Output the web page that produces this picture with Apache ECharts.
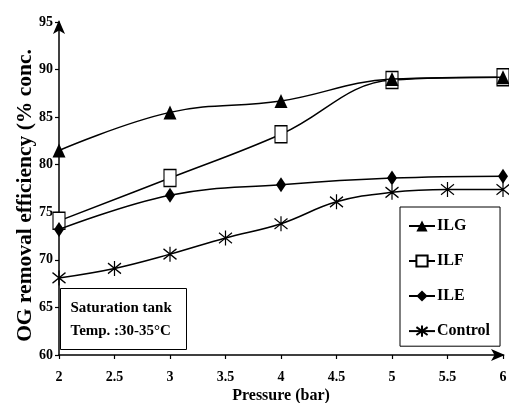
<!DOCTYPE html>
<html><head><meta charset="utf-8">
<script src="https://cdn.jsdelivr.net/npm/echarts@6/dist/echarts.min.js"></script>
<style>html,body{margin:0;padding:0;background:#fff}#c{width:509px;height:403px}</style>
</head><body><div id="c"></div>
<script>
const pressure = [2, 3, 4, 5, 6];
const pressureControl = [2, 2.5, 3, 3.5, 4, 4.5, 5, 5.5, 6];
const ILG = [81.5, 85.5, 86.7, 89.0, 89.2];
const ILF = [74.1, 78.6, 83.2, 88.9, 89.2];
const ILE = [73.2, 76.8, 77.9, 78.6, 78.8];
const Control = [68.1, 69.1, 70.6, 72.3, 73.8, 76.1, 77.1, 77.4, 77.4];
const xTicks = ['2', '2.5', '3', '3.5', '4', '4.5', '5', '5.5', '6'];
const yTicks = ['60', '65', '70', '75', '80', '85', '90', '95'];

const pair = (xs, ys) => xs.map((x, i) => [x, ys[i]]);
const FONT = '"Liberation Serif", "DejaVu Serif", serif';
const star = 'path://M5,0L5,10M0.7,1.5L9.3,8.5M9.3,1.5L0.7,8.5';

const chart = echarts.init(document.getElementById('c'), null, {renderer: 'canvas'});
chart.setOption({
  backgroundColor: '#fff',
  animation: false,
  grid: {left: 59, right: 6, top: 22, bottom: 48, containLabel: false, outerBoundsMode: 'none'},
  xAxis: {
    type: 'value', min: 2, max: 6, interval: 0.5,
    name: 'Pressure (bar)', nameLocation: 'middle', nameGap: 33, nameMoveOverlap: false,
    nameTextStyle: {fontFamily: FONT, fontWeight: 'bold', fontSize: 16, color: '#000'},
    axisLine: {lineStyle: {color: '#000', width: 1.5}, symbol: ['none', 'arrow'], symbolSize: [9, 14], symbolOffset: [0, 2]},
    axisTick: {show: true, length: 4, lineStyle: {color: '#000', width: 1.2}},
    axisLabel: {fontFamily: FONT, fontWeight: 'bold', fontSize: 14, color: '#000', margin: 15,
      formatter: v => xTicks.find(t => +t === v) || ''},
    splitLine: {show: false}
  },
  yAxis: {
    type: 'value', min: 60, max: 95, interval: 5,
    name: 'OG removal efficiency (% conc.', nameLocation: 'middle', nameGap: 23, nameRotate: 90, nameMoveOverlap: false,
    nameTextStyle: {fontFamily: FONT, fontWeight: 'bold', fontSize: 21.5, color: '#000', padding: [0, 14, 0, 0]},
    axisLine: {lineStyle: {color: '#000', width: 1.5}, symbol: ['none', 'arrow'], symbolSize: [9, 14], symbolOffset: [0, 2]},
    axisTick: {show: true, length: 4, lineStyle: {color: '#000', width: 1.2}},
    axisLabel: {fontFamily: FONT, fontWeight: 'bold', fontSize: 14, color: '#000', margin: 6,
      formatter: v => yTicks.find(t => +t === v) || ''},
    splitLine: {show: false}
  },
  legend: {
    orient: 'vertical', left: 400, top: 207,
    borderColor: '#000', borderWidth: 1, padding: [11, 10, 7, 8],
    itemGap: 19, itemWidth: 26, itemHeight: 14,
    backgroundColor: '#fff',
    textStyle: {fontFamily: FONT, fontWeight: 'bold', fontSize: 16, color: '#000', padding: [0, 0, 0, -3]},
    data: ['ILG', 'ILF', 'ILE', 'Control']
  },
  graphic: [{
    type: 'group', left: 60, top: 288, children: [
      {type: 'rect', shape: {x: 0, y: 0, width: 126, height: 61}, style: {fill: '#fff', stroke: '#000', lineWidth: 1}},
      {type: 'text', left: 10, top: 8, style: {text: 'Saturation tank\nTemp. :30-35°C', font: 'bold 15px "Liberation Serif", serif', fill: '#000', lineHeight: 23}}
    ]
  }],
  series: [
    {name: 'ILG', type: 'line', smooth: 0.4, z: 5, data: pair(pressure, ILG),
      symbol: 'triangle', symbolSize: [13, 14],
      lineStyle: {color: '#000', width: 1.5}, itemStyle: {color: '#000', borderWidth: 0}},
    {name: 'ILF', type: 'line', smooth: 0.4, z: 3, data: pair(pressure, ILF),
      symbol: 'rect', symbolSize: [12, 17],
      lineStyle: {color: '#000', width: 1.5}, itemStyle: {color: '#fff', borderColor: '#000', borderWidth: 1.3}},
    {name: 'ILE', type: 'line', smooth: 0.4, z: 4, data: pair(pressure, ILE),
      symbol: 'diamond', symbolSize: [10, 15],
      lineStyle: {color: '#000', width: 1.5}, itemStyle: {color: '#000', borderWidth: 0}},
    {name: 'Control', type: 'line', smooth: 0.4, z: 4, data: pair(pressureControl, Control),
      symbol: star, symbolSize: [13, 15], symbolKeepAspect: false,
      lineStyle: {color: '#000', width: 1.5}, itemStyle: {color: 'none', borderColor: '#000', borderWidth: 1.3}}
  ]
});
</script></body></html>
